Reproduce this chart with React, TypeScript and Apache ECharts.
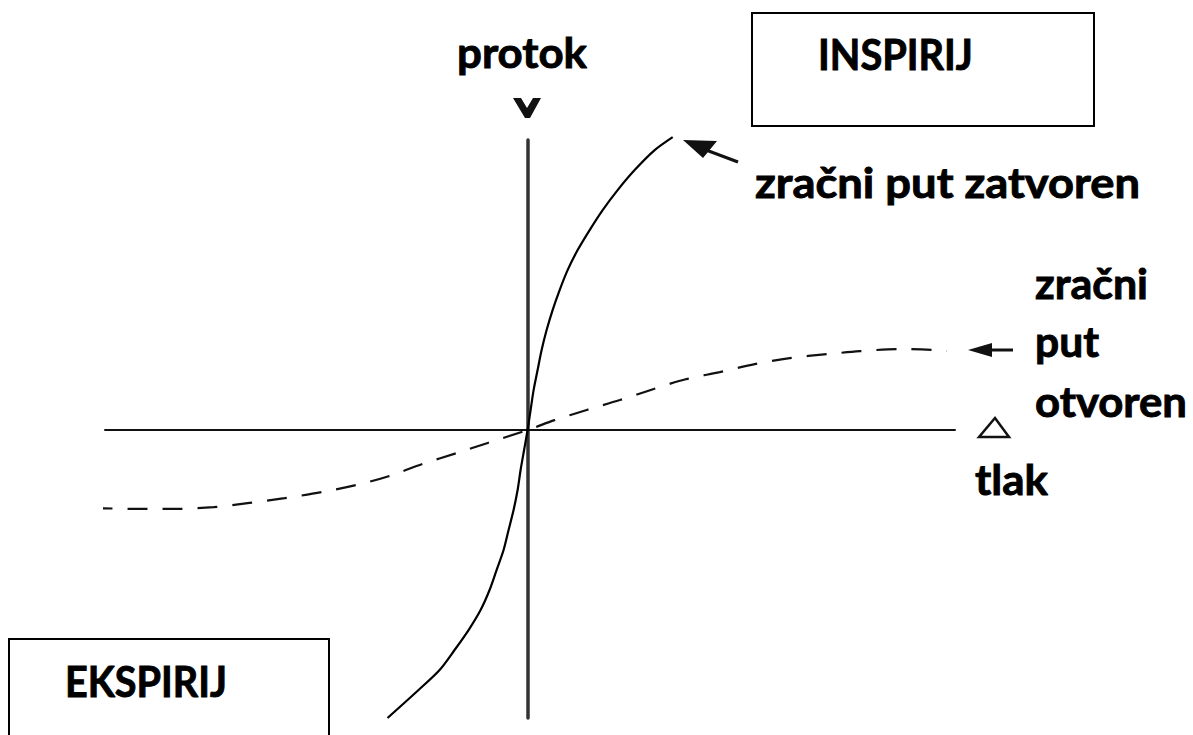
import React, { useEffect, useRef } from "react";
import * as echarts from "echarts";

// pressure (tlak) range shown on the horizontal axis, flow (protok) range on the vertical axis
const X_RANGE: [number, number] = [-8.8, 8.9];
const Y_RANGE: [number, number] = [-9.6, 9.67];

// airway closed (zračni put zatvoren): steep curve
const CLOSED_X = [-2.917, -2.271, -1.833, -1.521, -1.229, -0.979, -0.792, -0.646, -0.5, -0.396, -0.292, -0.208, -0.146, -0.073, 0, 0.0625, 0.125, 0.208, 0.292, 0.396, 0.521, 0.667, 0.833, 1.042, 1.292, 1.563, 1.875, 2.229, 2.646, 3.021];
const CLOSED_Y = [-9.6, -8.667, -8, -7.333, -6.667, -6, -5.333, -4.667, -4, -3.333, -2.667, -2, -1.333, -0.667, 0, 0.667, 1.333, 2, 2.667, 3.333, 4, 4.667, 5.333, 6, 6.667, 7.333, 8, 8.667, 9.333, 9.767];

// airway open (zračni put otvoren): flat dashed curve
const OPEN_X = [-9.06, -8.08, -7.35, -6.54, -5.79, -5.06, -4.29, -3.56, -2.875, -2.19, -1.48, -0.83, 0, 0.56, 1.23, 1.92, 2.625, 3.31, 4.0, 4.73, 5.46, 6.23, 6.92, 7.73, 8.48, 8.73];
const OPEN_Y = [-2.6, -2.63, -2.63, -2.57, -2.43, -2.27, -2.07, -1.83, -1.53, -1.13, -0.77, -0.43, 0, 0.33, 0.67, 1.0, 1.37, 1.7, 1.93, 2.2, 2.4, 2.53, 2.63, 2.7, 2.67, 2.63];

const LABEL_TEXTS = ["protok", "INSPIRIJ", "zračni put zatvoren", "zračni", "put", "otvoren", "tlak", "EKSPIRIJ"];

const FONT_FAMILY = "Lato, 'Open Sans', sans-serif";
const FONT_SIZE = 42;
const FONT_WEIGHT = "bold";

function measure(text: string): number {
  const c = document.createElement("canvas");
  const ctx = c.getContext("2d");
  if (!ctx) return text.length * FONT_SIZE * 0.5;
  ctx.font = `${FONT_WEIGHT} ${FONT_SIZE}px ${FONT_FAMILY}`;
  return ctx.measureText(text).width;
}

// left x, baseline y, target width for each label
const LABEL_BOXES: [number, number, number][] = [
  [457, 68, 130],
  [818, 70, 155],
  [755, 198, 385],
  [1035, 299, 113],
  [1035, 357, 64],
  [1035, 417, 152],
  [975, 495, 73],
  [65, 697, 162],
];

function zip(xs: number[], ys: number[]) {
  return xs.map((x, i) => [x, ys[i]]);
}

export default function App() {
  const ref = useRef<HTMLDivElement>(null);
  useEffect(() => {
    if (!ref.current) return;
    const chart = echarts.init(ref.current, undefined, { renderer: "svg" });

    const texts = LABEL_TEXTS.map((t, i) => {
      const [x, base, w] = LABEL_BOXES[i];
      const natural = measure(t);
      return {
        type: "text",
        x,
        y: base - FONT_SIZE * 0.387,
        scaleX: w / natural,
        z: 10,
        style: {
          text: t,
          x: 0,
          y: 0,
          fill: "#000",
          stroke: "#000",
          lineWidth: 0.9,
          fontSize: FONT_SIZE,
          fontWeight: FONT_WEIGHT,
          fontFamily: FONT_FAMILY,
          textAlign: "left",
          textVerticalAlign: "middle",
        },
      };
    });

    const option: any = {
      animation: false,
      backgroundColor: "#ffffff",
      grid: { left: 105, right: 238, top: 140, bottom: 17, containLabel: false },
      xAxis: {
        type: "value",
        min: X_RANGE[0],
        max: X_RANGE[1],
        axisLine: { show: true, onZero: true, lineStyle: { color: "#111", width: 2 } },
        axisTick: { show: false },
        axisLabel: { show: false },
        splitLine: { show: false },
      },
      yAxis: {
        type: "value",
        min: Y_RANGE[0],
        max: Y_RANGE[1],
        axisLine: { show: true, onZero: true, lineStyle: { color: "#333", width: 3.5 } },
        axisTick: { show: false },
        axisLabel: { show: false },
        splitLine: { show: false },
      },
      series: [
        {
          type: "line",
          name: "zračni put zatvoren",
          data: zip(CLOSED_X, CLOSED_Y),
          smooth: 0.3,
          showSymbol: false,
          clip: false,
          lineStyle: { color: "#000", width: 2.2 },
          z: 3,
        },
        {
          type: "line",
          name: "zračni put otvoren",
          data: zip(OPEN_X, OPEN_Y),
          smooth: 0.3,
          showSymbol: false,
          clip: false,
          lineStyle: { color: "#111", width: 2.2, type: [20, 15] },
          z: 3,
        },
      ],
      graphic: [
        {
          type: "rect",
          shape: { x: 752, y: 13, width: 342, height: 113 },
          style: { fill: "none", stroke: "#000", lineWidth: 2 },
        },
        {
          type: "rect",
          shape: { x: 9, y: 639, width: 320, height: 130 },
          style: { fill: "none", stroke: "#000", lineWidth: 2 },
        },
        // "v" marker above the flow axis
        {
          type: "polygon",
          shape: {
            points: [[513, 98], [521, 98], [527, 108], [533, 98], [541, 98], [530, 118], [525, 118]],
          },
          style: { fill: "#111" },
        },
        // triangle marker at the pressure axis
        {
          type: "polygon",
          shape: { points: [[979, 437], [995, 418], [1009, 437]] },
          style: { stroke: "#111", lineWidth: 2.5, fill: "none" },
        },
        // arrow to closed-airway curve
        {
          type: "line",
          shape: { x1: 706, y1: 150, x2: 738, y2: 162 },
          style: { stroke: "#111", lineWidth: 3 },
        },
        {
          type: "polygon",
          shape: { points: [[683, 140], [717, 141], [703, 158]] },
          style: { fill: "#111" },
        },
        // arrow to open-airway curve
        {
          type: "line",
          shape: { x1: 985, y1: 350, x2: 1013, y2: 350 },
          style: { stroke: "#111", lineWidth: 3 },
        },
        {
          type: "polygon",
          shape: { points: [[968, 350], [992, 343], [992, 357]] },
          style: { fill: "#111" },
        },
        ...texts,
      ],
    };
    chart.setOption(option);
    return () => chart.dispose();
  }, []);
  return (
    <div
      ref={ref}
      style={{ position: "fixed", left: 0, top: 0, width: 1193, height: 735, background: "#fff" }}
    />
  );
}
